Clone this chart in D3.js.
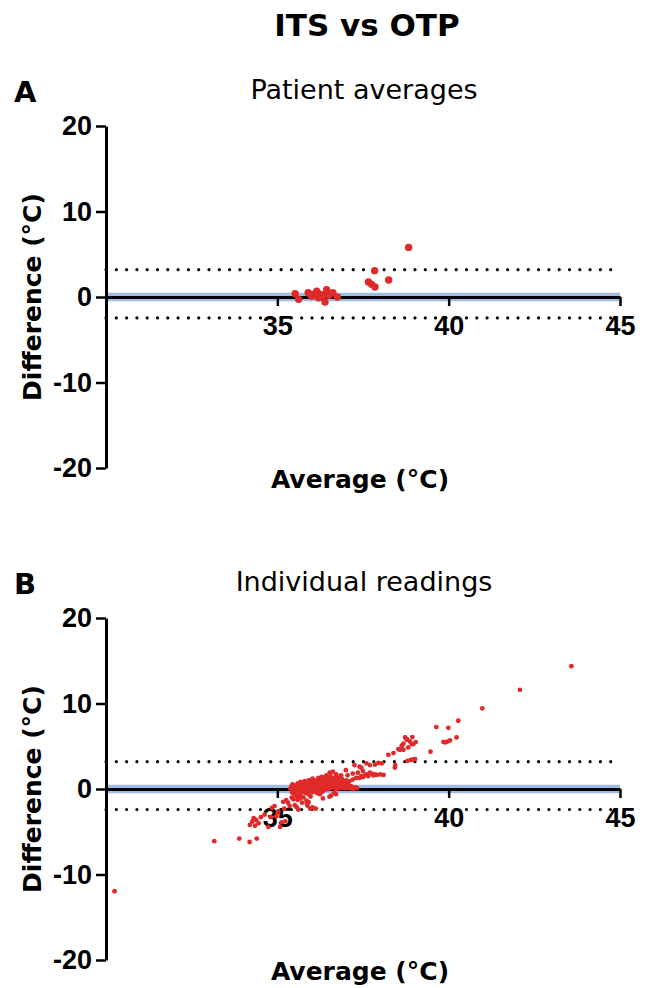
<!DOCTYPE html>
<html>
<head>
<meta charset="utf-8">
<script src="https://cdn.jsdelivr.net/npm/d3@7/dist/d3.min.js"></script>
<style>
   body { margin: 0; background: #fff; }
   .axisTitle { font-family: "DejaVu Sans", Verdana, sans-serif; font-weight: bold; font-size: 25px; }
</style>
</head>
<body>
<div id="chart"></div>
<script>
//--------------------------------------------------------------
// CHART SIZE PARAMETERS
//--------------------------------------------------------------
var width = 646;
var height = 988;

// plot area shared by both panels (x), each panel has its own top/bottom
var plotLeft = 106;
var plotRight = 620;
//--------------------------------------------------------------


//--------------------------------------------------------------
// DATA
//--------------------------------------------------------------
var chartTitle = "ITS vs OTP";
var panelLetters = ["A", "B"];
var panelTitles = ["Patient averages", "Individual readings"];
var xAxisTitle = "Average (°C)";
var yAxisTitle = "Difference (°C)";

var xDomain = [30, 45];
var yDomain = [-20, 20];
var xTickValues = [35, 40, 45];
var yTickValues = [-20, -10, 0, 10, 20];

// bias, 95% CI of bias, limits of agreement
var biasValue = [0, 0];
var biasCI = [[-0.5, 0.5], [-0.5, 0.5]];
var limitsOfAgreement = [[-2.45, 3.2], [-2.4, 3.2]];

// [average, difference] per patient
var patientAverages = [
   [35.52, 0.4], [35.62, -0.27], [35.9, 0.5], [35.98, 0.3], [36.05, 0.2],
   [36.15, 0.67], [36.2, 0.4], [36.25, 0.08], [36.3, 0.28], [36.39, -0.58],
   [36.44, 0.86], [36.46, 0.47], [36.52, 0.31], [36.62, 0.51], [36.75, 0.0],
   [36.0, 0.1], [36.3, 0.0], [36.2, -0.1], [36.5, 0.2], [36.1, 0.35],
   [37.66, 1.75], [37.75, 1.48], [37.85, 1.17], [37.84, 3.08], [38.25, 1.98],
   [38.83, 5.8]
];

// [average, difference] per reading
var individualReadings = [
   // low tail
   [30.25, -11.96], [33.16, -6.1], [33.89, -5.8], [34.19, -6.2], [34.4, -5.8],
   [34.2, -4.2], [34.27, -3.8], [34.31, -3.4], [34.38, -3.6], [34.45, -4.0],
   [34.35, -4.3], [34.52, -3.3], [34.74, -4.44], [34.84, -2.2], [34.92, -2.0],
   [34.97, -3.2], [35.03, -2.6], [35.08, -4.44], [35.12, -3.9], [35.17, -1.5],
   [35.23, -3.78], [35.26, -1.3], [35.31, -1.6], [35.36, -2.0], [35.42, -1.0],
   [35.47, -1.2], [35.51, -1.9], [35.58, -0.8], [35.61, -2.4], [35.66, -1.1],
   [35.96, -2.3], [36.12, -2.3], [35.86, -1.7], [35.91, -1.55], [35.01, -2.8],
   [34.63, -3.0], [34.81, -3.3], [35.72, -1.6], [35.88, -1.95], [36.03, -2.15],
   [36.33, -1.1], [36.52, -0.9], [36.71, -0.6], [35.56, -2.1], [35.2, -2.3],
   // main cluster
   [35.41, 0.3], [35.38, 0.02], [35.43, -0.4], [35.44, 0.55],
   [35.47, 0.12], [35.49, -0.62], [35.46, 0.48], [35.52, -0.2],
   [35.53, 0.38], [35.5, 0.05], [35.57, -0.86], [35.55, 0.22],
   [35.58, -0.32], [35.6, 0.66], [35.62, 0.12], [35.59, -1.28],
   [35.63, 0.5], [35.64, -0.08], [35.67, 0.28], [35.66, -0.72],
   [35.69, 0.18], [35.68, 0.82], [35.71, -0.42], [35.73, 0.02],
   [35.72, 0.6], [35.74, -0.22], [35.77, 0.32], [35.76, -0.98], [35.78, 0.1],
   [35.79, 0.0], [35.81, 0.52], [35.82, -0.48], [35.8, 0.92],
   [35.84, 0.3], [35.86, -0.28], [35.83, 0.7], [35.87, 0.12], [35.85, -1.36],
   [35.89, 0.62], [35.88, 0.04], [35.9, -0.58], [35.92, 1.02],
   [35.93, 0.22], [35.94, 0.48], [35.96, -0.18], [35.95, 0.78], [35.97, -0.88],
   [35.99, 0.42], [36.0, 0.02], [36.01, 1.08], [36.02, -0.38],
   [36.04, 0.72], [36.05, 0.12], [36.06, -0.3], [36.07, 0.4], [36.03, 1.2],
   [36.08, 0.2], [36.1, 0.6], [36.09, -0.1], [36.11, 0.9],
   [36.13, 0.5], [36.12, 0.0], [36.14, 1.0], [36.16, -0.48], [36.15, 0.3],
   [36.18, 0.8], [36.17, 0.2], [36.19, -0.22], [36.2, 1.3],
   [36.22, 0.4], [36.21, 0.92], [36.23, 0.1], [36.24, -0.6], [36.25, 0.6],
   [36.27, 1.1], [36.26, 0.3], [36.28, 0.0], [36.29, 0.7],
   [36.31, 0.5], [36.3, 1.42], [36.32, -0.3], [36.34, 0.2], [36.33, 0.9],
   [36.36, 0.8], [36.35, 0.1], [36.37, 1.2], [36.38, 0.4],
   [36.4, 0.3], [36.41, 1.0], [36.39, -0.1], [36.42, 0.6], [36.43, 1.6],
   [36.45, 0.9], [36.44, 0.2], [36.46, 0.5], [36.47, 1.3],
   [36.49, 0.4], [36.5, 1.1], [36.48, 0.0], [36.51, 0.7], [36.53, 1.92],
   [36.55, 1.5], [36.54, 0.3], [36.56, 0.8], [36.57, -0.78],
   [36.59, 0.6], [36.6, 1.2], [36.58, 0.1], [36.61, 0.9], [36.62, 2.02],
   [36.64, 0.3], [36.65, 1.0], [36.63, 0.5], [36.66, -0.4],
   [36.68, 0.8], [36.7, 1.4], [36.69, 0.2], [36.72, 1.7],
   [36.74, 0.5], [36.75, 1.1], [36.73, 0.0], [36.76, 0.3],
   [36.79, 0.9], [36.8, 1.3], [36.78, 0.2], [36.81, 0.6],
   [36.84, 0.4], [36.85, 1.0], [36.83, 0.1], [36.86, 1.6],
   [36.89, 0.7], [36.9, 0.2], [36.88, 1.2], [36.91, 0.4],
   [36.94, 0.3], [36.95, 0.9], [36.96, 0.1],
   [36.99, 0.5], [37.0, 0.2], [37.01, 1.0], [37.02, 0.4],
   [37.04, 0.3], [37.06, 0.1], [37.05, 0.7],
   [37.09, 0.2], [37.11, 0.4], [37.14, 0.1], [37.16, 0.3],
   [37.19, 0.2], [37.21, 0.0], [37.24, 0.1], [37.29, 0.2], [37.33, 0.1],
   // upper arm
   [37.1, 0.9], [37.2, 1.1], [37.3, 1.3], [37.4, 1.3], [37.45, 1.5],
   [37.5, 1.4], [37.55, 1.6], [37.6, 1.7], [37.65, 1.5], [37.7, 1.9],
   [37.75, 1.8], [37.8, 1.6], [37.85, 1.7], [37.9, 1.65], [38.0, 1.7],
   [38.1, 1.65], [37.25, 2.8], [37.4, 2.6], [37.45, 2.5], [37.6, 3.0],
   [37.7, 2.8], [37.85, 2.85], [37.95, 3.05], [38.05, 3.0], [37.35, 1.9],
   [37.5, 2.1], [37.0, 2.2], [37.05, 1.6], [37.2, 1.8],
   // high tail
   [38.24, 4.0], [38.39, 4.2], [38.53, 4.67], [38.58, 4.59], [38.68, 4.59],
   [38.63, 5.06], [38.68, 5.29], [38.82, 4.86], [38.92, 5.26], [38.97, 5.26],
   [39.04, 5.49], [38.87, 5.56], [38.94, 6.07], [38.78, 5.76], [38.78, 5.83],
   [38.73, 6.03], [38.43, 2.5], [38.44, 2.8], [38.8, 3.3], [38.9, 3.4],
   [38.97, 3.45], [39.02, 3.5], [39.47, 4.36], [39.85, 5.5], [39.9, 5.45],
   [39.96, 5.55], [40.04, 5.68], [40.23, 6.03], [39.64, 7.24], [39.99, 7.16],
   [40.28, 7.98], [40.98, 9.43], [42.08, 11.6], [43.58, 14.37]
];
//--------------------------------------------------------------


//--------------------------------------------------------------
// PANEL SETTINGS
//--------------------------------------------------------------
var panels = [
   { top: 126, bottom: 468, data: patientAverages, radius: 3.7 },
   { top: 618, bottom: 960, data: individualReadings, radius: 2.4 }
];

var tickFont = "'Liberation Sans Narrow', 'Liberation Sans', Arial, sans-serif";
//--------------------------------------------------------------


// create svg area
function createSvg() {
   var svg = d3.select("#chart").append("svg")
      .attr("width", width)
      .attr("height", height)
   return svg
};

// main title
function addTitle(svg) {
   svg.append("text")
      .attr("x", 367)
      .attr("y", 36)
      .attr("text-anchor", "middle")
      .style("font-family", "'DejaVu Sans', Verdana, sans-serif")
      .style("font-weight", "bold")
      .style("font-size", "31px")
      .text(chartTitle)
};

// bold tick labels, plain hyphen for negatives
function styleAxis(axisGroup) {
   axisGroup
      .attr("font-family", tickFont)
      .attr("font-size", 27)
      .attr("font-weight", "bold")
   axisGroup.select(".domain").attr("stroke-width", 3)
   axisGroup.selectAll(".tick line").attr("stroke-width", 2.5)
};

// draw one Bland-Altman panel
function drawPanel(svg, i) {
   var p = panels[i];

   var xScale = d3.scaleLinear().domain(xDomain).range([plotLeft, plotRight]);
   var yScale = d3.scaleLinear().domain(yDomain).range([p.bottom, p.top]);

   var g = svg.append("g");

   // panel letter and subtitle
   g.append("text")
      .attr("x", 14)
      .attr("y", p.top - 24)
      .style("font-family", "'DejaVu Sans', Verdana, sans-serif")
      .style("font-weight", "bold")
      .style("font-size", "29px")
      .text(panelLetters[i])

   g.append("text")
      .attr("x", 364)
      .attr("y", p.top - 27)
      .attr("text-anchor", "middle")
      .style("font-family", "'DejaVu Sans', Verdana, sans-serif")
      .style("font-size", "27px")
      .text(panelTitles[i])

   // 95% CI band of the bias
   g.append("rect")
      .attr("x", xScale(xDomain[0]))
      .attr("width", xScale(xDomain[1]) - xScale(xDomain[0]))
      .attr("y", yScale(biasCI[i][1]))
      .attr("height", yScale(biasCI[i][0]) - yScale(biasCI[i][1]))
      .attr("fill", "#9dbde4")

   // limits of agreement, dotted
   g.selectAll("line.loa")
      .data(limitsOfAgreement[i])
      .enter()
      .append("line")
      .attr("class", "loa")
      .attr("x1", xScale(xDomain[0]))
      .attr("x2", xScale(xDomain[1]))
      .attr("y1", d => yScale(d))
      .attr("y2", d => yScale(d))
      .attr("stroke", "#000")
      .attr("stroke-width", 3.2)
      .attr("stroke-linecap", "round")
      .attr("stroke-dasharray", "0 10.3")

   // x axis sits on the bias line (0)
   var xAxis = g.append("g")
      .attr("transform", `translate(0, ${yScale(biasValue[i])})`)
      .call(d3.axisBottom(xScale).tickValues(xTickValues).tickFormat(d => String(d))
         .tickSize(9).tickSizeOuter(0).tickPadding(10))
   styleAxis(xAxis)

   // y axis
   var yAxis = g.append("g")
      .attr("transform", `translate(${plotLeft}, 0)`)
      .call(d3.axisLeft(yScale).tickValues(yTickValues).tickFormat(d => String(d))
         .tickSize(10).tickSizeOuter(0).tickPadding(4))
   styleAxis(yAxis)

   // axis titles
   g.append("text")
      .attr("class", "axisTitle")
      .attr("x", 360)
      .attr("y", p.bottom + 20)
      .attr("text-anchor", "middle")
      .text(xAxisTitle)

   g.append("text")
      .attr("class", "axisTitle")
      .attr("transform", `translate(41, ${(p.top + p.bottom) / 2}) rotate(-90)`)
      .attr("text-anchor", "middle")
      .text(yAxisTitle)

   // points
   g.selectAll("circle")
      .data(p.data)
      .enter()
      .append("circle")
      .attr("cx", d => xScale(d[0]))
      .attr("cy", d => yScale(d[1]))
      .attr("r", p.radius)
      .attr("fill", "#e02a2a")
};

var svg = createSvg();
addTitle(svg);
drawPanel(svg, 0);
drawPanel(svg, 1);
</script>
</body>
</html>
